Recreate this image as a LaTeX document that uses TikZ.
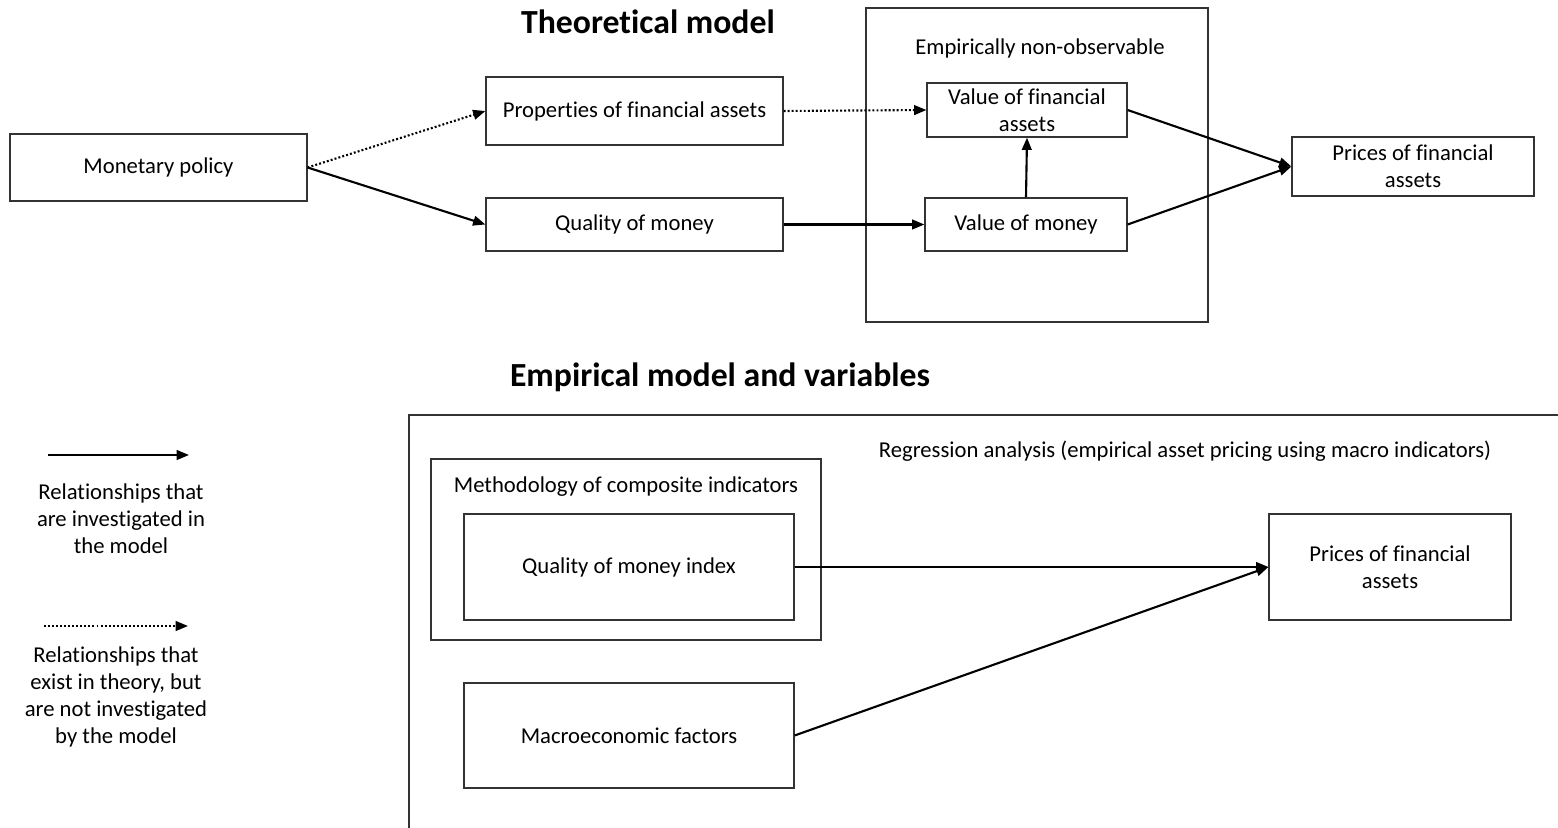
\documentclass[tikz,border=0pt]{standalone}
\usepackage{fontspec}
\setmainfont{Carlito}[Ligatures=NoCommon]
\usetikzlibrary{arrows.meta}

\begin{document}
\begin{tikzpicture}[x=0.02cm,y=-0.02cm,
  box/.style={draw=black!80,line width=0.7pt,align=center,inner sep=2pt,font=\fontsize{12.9}{15.3}\selectfont},
  lbl/.style={align=center,inner sep=0pt,font=\fontsize{12.9}{15.3}\selectfont},
  heading/.style={inner sep=0pt,font=\fontsize{19.2}{23}\selectfont\bfseries},
  link/.style={line width=1.2pt,-{Triangle[length=7pt,width=5.5pt]}},
  theory/.style={link,dash pattern=on 1.1pt off 1.2pt}]
 \useasboundingbox (0,0) rectangle (1558,828);
 % theoretical model
 \node[heading] (thtitle) at (648,22) {Theoretical model};
 \node[box,minimum width=6.84cm,minimum height=6.28cm] (nonobs) at (1037,165) {};
 \node[lbl] (nonobslbl) at (1040,48) {Empirically non-observable};
 \node[box,minimum width=5.94cm,minimum height=1.34cm] (mon) at (158.5,167.5) {Monetary policy};
 \node[box,minimum width=5.94cm,minimum height=1.36cm] (prop) at (634.5,111) {Properties of financial assets};
 \node[box,minimum width=5.94cm,minimum height=1.06cm] (qual) at (634.5,224.5) {Quality of money};
 \node[box,minimum width=4.0cm,minimum height=1.08cm] (valfin) at (1027,110) {Value of financial\\assets};
 \node[box,minimum width=4.04cm,minimum height=1.06cm] (valmon) at (1026,224.5) {Value of money};
 \node[box,minimum width=4.84cm,minimum height=1.18cm] (pricetop) at (1413,166.5) {Prices of financial\\assets};
 \draw[theory] (mon.east) -- (prop.west);
 \draw[link] (mon.east) -- (qual.west);
 \draw[theory] (prop.east) -- (valfin.west);
 \draw[link] (qual.east) -- (valmon.west);
 \draw[link] (valmon.north) -- (valfin.south);
 \draw[link] (valfin.east) -- (pricetop.west);
 \draw[link] (valmon.east) -- (pricetop.west);
 % empirical model
 \node[heading] (emtitle) at (720,377) {Empirical model and variables};
 \draw[draw=black!80,line width=0.7pt] (409,830) -- (409,415) -- (1560,415);
 \node[lbl] (reglbl) at (1185,451) {Regression analysis (empirical asset pricing using macro indicators)};
 \node[box,minimum width=7.8cm,minimum height=3.62cm] (method) at (626,549.5) {};
 \node[lbl] (methodlbl) at (626,487) {Methodology of composite indicators};
 \node[box,minimum width=6.6cm,minimum height=2.12cm] (qmi) at (629,567) {Quality of money index};
 \node[box,minimum width=6.6cm,minimum height=2.1cm] (macro) at (629,735.5) {Macroeconomic factors};
 \node[box,minimum width=4.84cm,minimum height=2.12cm] (pricebot) at (1390,567) {Prices of financial\\assets};
 \draw[link] (qmi.east) -- (pricebot.west);
 \draw[link] (macro.east) -- (pricebot.west);
 % legend
 \coordinate (solidA) at (48,455);
 \coordinate (solidB) at (189,455);
 \coordinate (dotA) at (44,626);
 \coordinate (dotB) at (188,626);
 \draw[link] (solidA) -- (solidB);
 \draw[theory] (dotA) -- (dotB);
 \node[lbl] (solidlbl) at (121,519) {Relationships that\\are investigated in\\the model};
 \node[lbl] (dotlbl) at (116,697) {Relationships that\\exist in theory, but\\are not investigated\\by the model};
\end{tikzpicture}
\end{document}
